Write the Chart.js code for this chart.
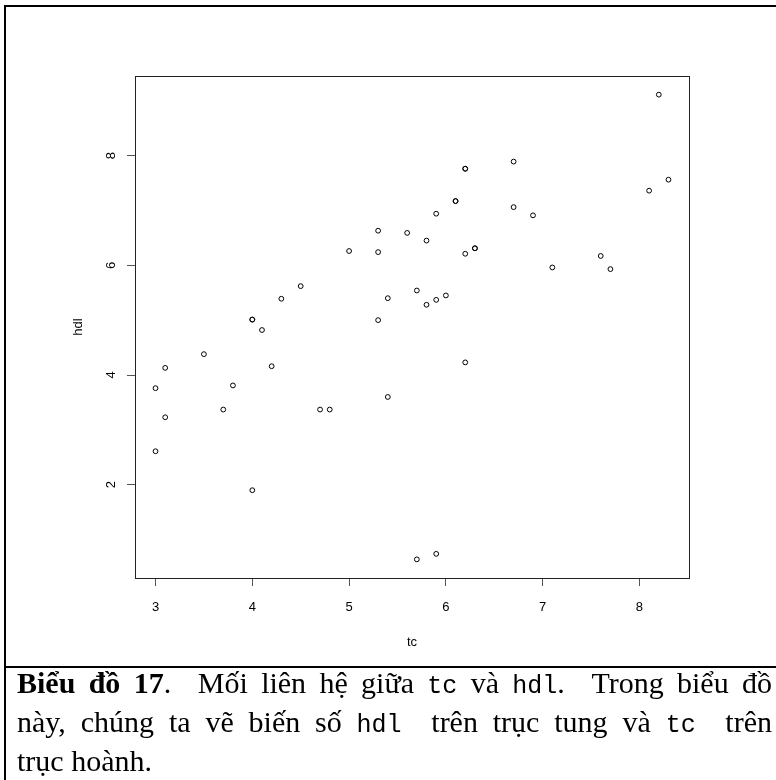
<!DOCTYPE html>
<html>
<head>
<meta charset="utf-8">
<script src="https://cdn.jsdelivr.net/npm/chart.js@4/dist/chart.umd.min.js"></script>
<style>
  html, body { margin: 0; padding: 0; background: #fff; }
  body { width: 776px; height: 780px; position: relative; overflow: hidden; }
  #frame { position: absolute; left: 4px; top: 5px; width: 820px; height: 820px; border: 2px solid #000; box-sizing: border-box; }
  #sep { position: absolute; left: 4px; top: 666px; width: 820px; height: 2px; background: #000; }
  #chart { position: absolute; left: 0; top: 0; }
  #caption { position: absolute; left: 17px; top: 665px; width: 755px; font-family: "Liberation Serif", "Times New Roman", serif; font-size: 30px; line-height: 35px; color: #000; }
  #caption .j { text-align: justify; text-align-last: justify; white-space: nowrap; }
  #caption .m { font-family: "Liberation Mono", "Courier New", monospace; font-size: 25px; }
</style>
</head>
<body>
<div id="frame"></div>
<div id="sep"></div>
<canvas id="chart" width="776" height="780"></canvas>
<div id="caption">
  <div class="j" style="white-space:normal"><b>Biểu đồ 17</b>. &nbsp;Mối liên hệ giữa <span class="m">tc</span> và <span class="m">hdl</span>. &nbsp;Trong biểu đồ</div>
  <div class="j" style="white-space:normal">này, chúng ta vẽ biến số <span class="m">hdl</span> &nbsp;trên trục tung và <span class="m">tc</span> &nbsp;trên</div>
  <div>trục hoành.</div>
</div>
<script>
const tc  = [3.0, 3.0, 3.1, 3.1, 3.5, 3.7, 3.8, 4.0, 4.0, 4.0, 4.1, 4.2, 4.3, 4.5, 4.7, 4.8, 5.0, 5.3, 5.3, 5.3, 5.4, 5.4, 5.6, 5.7, 5.7, 5.8, 5.8, 5.9, 5.9, 5.9, 6.0, 6.1, 6.1, 6.2, 6.2, 6.2, 6.2, 6.3, 6.3, 6.7, 6.7, 6.9, 7.1, 7.6, 7.7, 8.1, 8.2, 8.3];
const hdl = [2.61, 3.76, 3.23, 4.13, 4.38, 3.37, 3.81, 1.90, 5.01, 5.01, 4.82, 4.16, 5.39, 5.62, 3.37, 3.37, 6.26, 6.63, 6.24, 5.00, 5.40, 3.60, 6.59, 5.54, 0.64, 6.45, 5.28, 6.94, 5.37, 0.74, 5.45, 7.17, 7.17, 7.76, 7.76, 6.21, 4.23, 6.31, 6.31, 7.89, 7.06, 6.91, 5.96, 6.17, 5.93, 7.36, 9.11, 7.56];
const xTickValues = [3, 4, 5, 6, 7, 8];
const yTickValues = [2, 4, 6, 8];
const xLabel = 'tc';
const yLabel = 'hdl';

const FONT = 'Liberation Sans, Arial, Helvetica, sans-serif';

const boxPlugin = {
  id: 'box',
  afterDraw(chart) {
    const {ctx, chartArea: a} = chart;
    ctx.save();
    ctx.strokeStyle = '#222';
    ctx.lineWidth = 1;
    ctx.strokeRect(a.left + 0.5, a.top + 0.5, a.right - a.left, a.bottom - a.top);
    ctx.restore();
  }
};

new Chart(document.getElementById('chart'), {
  type: 'scatter',
  data: {
    datasets: [{
      data: tc.map((x, i) => ({x: x, y: hdl[i]})),
      pointStyle: 'circle',
      pointRadius: 2.4,
      pointBorderWidth: 1,
      borderColor: '#000',
      backgroundColor: 'rgba(0,0,0,0)',
      showLine: false
    }]
  },
  options: {
    responsive: false,
    animation: false,
    devicePixelRatio: 1,
    layout: { padding: { left: 0, top: 76, right: 87, bottom: 122 } },
    plugins: { legend: { display: false }, tooltip: { enabled: false } },
    scales: {
      x: {
        type: 'linear',
        min: 2.788, max: 8.512,
        afterBuildTicks: s => { s.ticks = xTickValues.map(v => ({value: v})); },
        afterFit: s => { s.height = 80; },
        grid: { drawOnChartArea: false, drawTicks: true, tickLength: 8, color: '#555' },
        border: { display: false },
        ticks: { font: { family: FONT, size: 13 }, color: '#000', padding: 14, maxRotation: 0, autoSkip: false },
        title: { display: true, text: xLabel, font: { family: FONT, size: 13 }, color: '#000', padding: 8 }
      },
      y: {
        type: 'linear',
        min: 0.30, max: 9.45,
        afterBuildTicks: s => { s.ticks = yTickValues.map(v => ({value: v})); },
        afterFit: s => { s.width = 135; },
        grid: { drawOnChartArea: false, drawTicks: true, tickLength: 8, color: '#555' },
        border: { display: false },
        ticks: { font: { family: FONT, size: 13 }, color: '#000', padding: 12, minRotation: 90, maxRotation: 90, crossAlign: 'center', autoSkip: false },
        title: { display: true, text: yLabel, font: { family: FONT, size: 13 }, color: '#000', padding: 71 }
      }
    }
  },
  plugins: [boxPlugin]
});
</script>
</body>
</html>
